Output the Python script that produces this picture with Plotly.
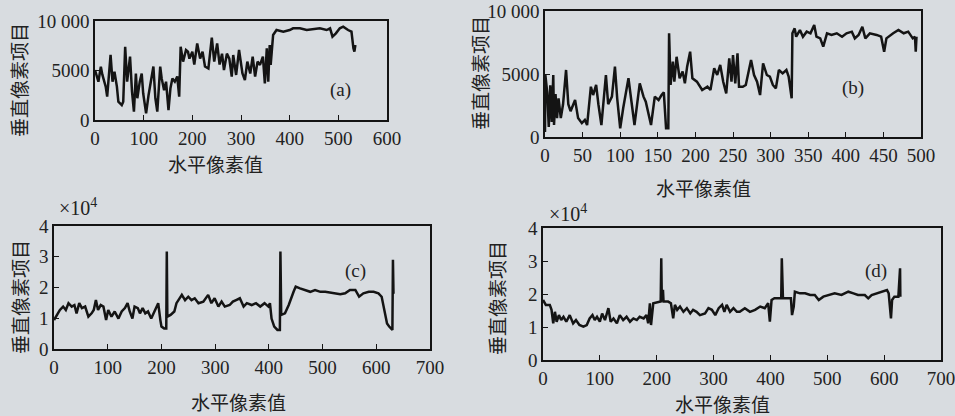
import plotly.graph_objects as go

# ---------------- data ----------------
a_x = [0, 7, 12, 15, 22, 25, 32, 36, 40, 45, 48, 55, 58, 62, 66, 72, 76, 80, 84, 87, 92, 96, 99, 105, 110,
       115, 120, 124, 128, 134, 137, 142, 146, 151, 155, 159, 164, 169, 173, 176, 181, 187, 191, 194, 200,
       204, 210, 216, 221, 226, 233, 240, 245, 251, 256, 261, 265, 271, 276, 281, 284, 290, 296, 303, 308,
       313, 319, 324, 329, 334, 339, 345, 349, 353, 356, 359, 361, 366, 373, 387, 400, 407, 421, 435, 448,
       462, 476, 483, 488, 495, 503, 510, 520, 527, 531, 533, 535]
a_y = [5050, 3870, 5390, 4600, 3370, 2360, 6570, 3870, 4880, 3370, 1850, 1500, 1850, 7400, 3870, 6400, 2900,
       840, 4700, 2200, 3870, 4700, 2700, 670, 2500, 4200, 5400, 2200, 840, 5390, 4200, 3000, 3870, 1000,
       3200, 4200, 3870, 4400, 2360, 7400, 5900, 7070, 6900, 6200, 6900, 5600, 7740, 6200, 6900, 5400, 5200,
       8320, 5900, 7740, 5600, 6700, 5050, 6700, 6200, 4380, 6570, 4550, 7070, 4700, 4040, 5900, 4700, 6400,
       4380, 5900, 5560, 6400, 3700, 7240, 3870, 7580, 5560, 8590, 9090, 8920, 9090, 9260, 9260, 9090, 9190,
       9260, 9090, 9260, 8420, 8750, 9260, 9430, 9090, 8920, 7240, 6900, 7580]

b_x = [0, 0.5, 3, 5, 7, 9, 11, 12, 14, 16, 18, 21, 24, 28, 31, 34, 40, 44, 49, 53, 56, 61, 64, 68, 71, 75,
       81, 84, 89, 93, 96, 100, 104, 111, 115, 119, 126, 131, 134, 141, 146, 151, 155, 158, 161, 164, 165,
       167, 170, 172, 175, 179, 183, 186, 189, 193, 196, 202, 209, 216, 220, 225, 229, 233, 237, 241, 245,
       248, 250, 253, 256, 258, 263, 267, 274, 278, 282, 286, 290, 295, 299, 303, 307, 311, 316, 321, 324,
       328, 329, 332, 334, 339, 343, 348, 353, 358, 361, 366, 370, 375, 381, 388, 395, 401, 408, 412, 417,
       422, 426, 432, 441, 447, 451, 454, 463, 470, 477, 483, 489, 492, 493, 494]
b_y = [400, 4920, 3500, 800, 4100, 1200, 4920, 950, 3400, 1500, 3070, 1500, 2600, 5320, 2600, 2050, 2940,
       1500, 1100, 1350, 950, 3990, 3330, 4130, 2600, 950, 4920, 2600, 3200, 5580, 3070, 690, 2300, 4660,
       2800, 950, 4260, 3200, 2800, 950, 3200, 2940, 3330, 3540, 690, 690, 8230, 4130, 5980, 4390, 6370,
       4660, 5190, 4260, 5580, 6770, 4660, 4390, 3730, 3990, 3730, 5450, 4920, 5720, 4390, 3460, 6240, 4390,
       6500, 4260, 6640, 3990, 3990, 4130, 6110, 4920, 4390, 3330, 5850, 4920, 4790, 4130, 3860, 5320, 5050,
       5320, 4790, 3070, 8230, 8620, 7960, 8490, 7960, 8360, 8230, 8890, 7960, 7830, 7170, 8230, 8100, 8230,
       7960, 8230, 8360, 7830, 8100, 8750, 7830, 8230, 8100, 7960, 6770, 7830, 8230, 8490, 8230, 8360, 7830,
       7960, 6770, 7960]

c_x = [0, 4, 11, 17, 22, 27, 33, 38, 42, 47, 52, 58, 64, 70, 74, 78, 82, 87, 92, 97, 101, 107, 113, 120,
       126, 132, 137, 141, 146, 150, 156, 160, 165, 170, 175, 181, 185, 189, 194, 198, 200, 205, 209, 210,
       211, 217, 224, 228, 238, 244, 250, 256, 262, 269, 278, 287, 293, 299, 306, 312, 318, 327, 333, 339,
       346, 353, 359, 368, 376, 384, 392, 399, 402, 405, 410, 416, 420.5, 421.5, 423, 430, 437, 446, 450,
       458, 468, 477, 486, 496, 505, 514, 524, 533, 542, 551, 561, 568, 576, 586, 595, 604, 610, 615, 620,
       624, 630, 631, 632]
c_y = [0.94, 1.05, 1.27, 1.38, 1.27, 1.49, 1.38, 1.43, 1.16, 1.49, 1.33, 1.38, 1.05, 1.16, 1.27, 1.59, 1.27,
       1.43, 1.38, 0.94, 1.27, 1.05, 1.22, 0.99, 1.22, 1.33, 1.49, 1.22, 0.99, 1.38, 1.33, 1.16, 1.33, 1.16,
       1.22, 0.99, 1.16, 1.27, 1.49, 0.94, 0.73, 0.67, 0.67, 3.17, 1.05, 1.11, 1.22, 1.49, 1.76, 1.59, 1.70,
       1.59, 1.65, 1.49, 1.54, 1.76, 1.49, 1.65, 1.38, 1.54, 1.38, 1.43, 1.54, 1.59, 1.65, 1.38, 1.49, 1.43,
       1.49, 1.38, 1.49, 1.38, 1.49, 0.99, 0.73, 0.62, 0.62, 3.17, 1.11, 1.16, 1.43, 1.86, 2.03, 1.97, 1.92,
       1.86, 1.92, 1.86, 1.86, 1.83, 1.81, 1.78, 1.81, 1.92, 1.92, 1.70, 1.81, 1.86, 1.86, 1.81, 1.70, 1.27,
       0.83, 0.73, 0.62, 2.90, 1.80]

d_x = [0, 5, 12, 15, 18, 21, 24, 28, 32, 36, 41, 47, 53, 58, 64, 71, 77, 82, 87, 91, 95, 100, 104, 109,
       115, 119, 124, 130, 135, 141, 147, 153, 159, 165, 170, 177, 182, 185, 188, 190, 194, 203, 207, 208,
       209, 211, 212, 220, 225, 229, 232, 236, 241, 247, 253, 259, 264, 270, 276, 285, 291, 297, 303, 309,
       315, 319, 323, 329, 335, 341, 346, 355, 364, 373, 382, 390, 396, 399, 402, 407, 414, 419, 420, 422,
       431, 436, 438, 441, 443, 452, 461, 470, 478, 485, 493, 502, 513, 525, 537, 546, 554, 566, 572, 578,
       587, 596, 605, 608, 611, 612, 614, 618, 625, 628, 628.5]
d_y = [1.82, 1.67, 1.67, 1.52, 1.11, 1.46, 1.16, 1.36, 1.21, 1.31, 1.16, 1.36, 1.11, 1.21, 1.06, 1.01, 1.06,
       1.26, 1.36, 1.21, 1.31, 1.16, 1.41, 1.21, 1.57, 1.16, 1.26, 1.11, 1.36, 1.21, 1.31, 1.16, 1.26, 1.21,
       1.31, 1.26, 1.36, 1.11, 1.72, 1.06, 1.72, 1.77, 1.77, 3.08, 1.77, 2.13, 1.77, 1.77, 1.72, 1.26, 1.67,
       1.52, 1.62, 1.46, 1.57, 1.41, 1.52, 1.46, 1.36, 1.41, 1.57, 1.52, 1.36, 1.57, 1.67, 1.46, 1.67, 1.46,
       1.57, 1.46, 1.46, 1.57, 1.46, 1.52, 1.62, 1.57, 1.72, 1.16, 1.82, 1.87, 1.87, 1.87, 3.08, 1.87, 1.87,
       1.87, 1.36, 1.62, 2.07, 2.02, 2.02, 1.97, 1.97, 1.82, 1.92, 1.97, 2.02, 1.97, 2.07, 2.02, 1.97, 1.97,
       1.87, 1.97, 2.02, 2.07, 2.12, 2.02, 1.57, 1.26, 1.82, 1.92, 1.92, 2.78, 1.92]

# tick definitions
ab_y_ticks = [0, 5000, 10000]
ab_y_text = ["0", "5000", "10 000"]
a_x_ticks = [0, 100, 200, 300, 400, 500, 600]
b_x_ticks = [0, 50, 100, 150, 200, 250, 300, 350, 400, 450, 500]
cd_x_ticks = [0, 100, 200, 300, 400, 500, 600, 700]
cd_y_ticks = [0, 1, 2, 3, 4]

panel_labels = ["(a)", "(b)", "(c)", "(d)"]
x_title = "水平像素值"
y_title = "垂直像素项目"
scale_label = "×10<sup>4</sup>"

# ---------------- figure ----------------
W, H = 955, 416
BG = "#d8dce0"
LINE = "#141414"
NUM_FONT = "Liberation Serif, DejaVu Serif, serif"
CJK_FONT = "Noto Sans CJK SC, sans-serif"

def px_dom(x0, x1):
    return [x0 / W, x1 / W]

def py_dom(y_top, y_bot):
    return [1 - y_bot / H, 1 - y_top / H]

fig = go.Figure()
series = [(a_x, a_y), (b_x, b_y), (c_x, c_y), (d_x, d_y)]
for i, (xs, ys) in enumerate(series):
    sfx = "" if i == 0 else str(i + 1)
    fig.add_trace(go.Scatter(x=xs, y=ys, mode="lines", xaxis="x" + sfx, yaxis="y" + sfx,
                             line=dict(color=LINE, width=2.5), showlegend=False, hoverinfo="skip"))

boxes = [  # (x0, x1, ytop, ybot) in pixels
    (95, 387, 21, 120),
    (545, 921, 11, 137),
    (54, 430, 226, 349),
    (543, 941, 228, 360),
]
xranges = [[0, 600], [0, 500], [0, 700], [0, 700]]
yranges = [[0, 10000], [0, 10000], [0, 4], [0, 4]]
xticks = [a_x_ticks, b_x_ticks, cd_x_ticks, cd_x_ticks]
yticks = [(ab_y_ticks, ab_y_text), (ab_y_ticks, ab_y_text),
          (cd_y_ticks, [str(v) for v in cd_y_ticks]), (cd_y_ticks, [str(v) for v in cd_y_ticks])]

axis_common = dict(showgrid=False, zeroline=False, showline=True, linecolor=LINE, linewidth=1.6,
                   mirror=True, ticks="inside", ticklen=5, tickwidth=1.4, tickcolor=LINE,
                   automargin=False, ticklabeloverflow="allow",
                   tickfont=dict(family=NUM_FONT, size=19, color="#222"), fixedrange=True)

layout = {}
for i in range(4):
    sfx = "" if i == 0 else str(i + 1)
    x0, x1, yt, yb = boxes[i]
    layout["xaxis" + sfx] = dict(axis_common, domain=px_dom(x0, x1), range=xranges[i],
                                 tickvals=xticks[i], ticktext=[str(v) for v in xticks[i]],
                                 anchor="y" + sfx)
    layout["yaxis" + sfx] = dict(axis_common, domain=py_dom(yt, yb), range=yranges[i],
                                 tickvals=yticks[i][0], ticktext=yticks[i][1],
                                 anchor="x" + sfx)

fig.update_layout(**layout)

ann = []
# x titles (centers in pixels)
for cx, cy in [(215, 163), (703, 188), (238, 401), (722, 403)]:
    ann.append(dict(text=x_title, x=cx / W, y=1 - cy / H, xref="paper", yref="paper",
                    showarrow=False, font=dict(family=CJK_FONT, size=19, color="#222"),
                    xanchor="center", yanchor="middle"))
# y titles
for cx, cy in [(18, 80), (480, 73), (19, 297), (496, 298)]:
    ann.append(dict(text=y_title, x=cx / W, y=1 - cy / H, xref="paper", yref="paper",
                    showarrow=False, textangle=-90, font=dict(family=CJK_FONT, size=19, color="#222"),
                    xanchor="center", yanchor="middle"))
# panel labels
for lbl, (cx, cy) in zip(panel_labels, [(340, 90), (853, 88), (355, 271), (876, 271)]):
    ann.append(dict(text=lbl, x=cx / W, y=1 - cy / H, xref="paper", yref="paper",
                    showarrow=False, font=dict(family=NUM_FONT, size=19, color="#222"),
                    xanchor="center", yanchor="middle"))
# scale labels
for cx, cy in [(57, 207), (547, 213)]:
    ann.append(dict(text=scale_label, x=cx / W, y=1 - cy / H, xref="paper", yref="paper",
                    showarrow=False, font=dict(family=NUM_FONT, size=20, color="#222"),
                    xanchor="left", yanchor="middle"))

fig.update_layout(width=W, height=H, margin=dict(l=0, r=0, t=0, b=0, autoexpand=False),
                  paper_bgcolor=BG, plot_bgcolor=BG, annotations=ann, showlegend=False)

page_fix = ("document.body.style.margin='0';document.body.style.padding='0';"
            "document.body.style.overflow='hidden';document.body.style.background='" + BG + "';")
fig.write_html("out.html", config=dict(displayModeBar=False), post_script=page_fix)
